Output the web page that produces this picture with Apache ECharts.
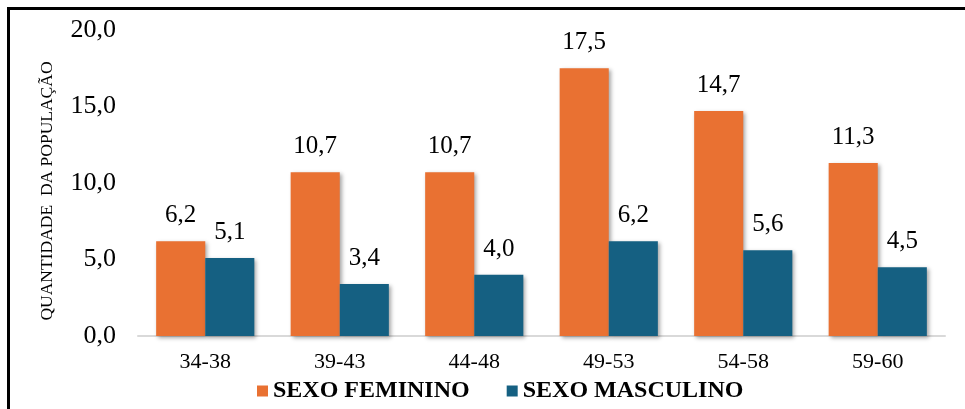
<!DOCTYPE html>
<html>
<head>
<meta charset="utf-8">
<script src="https://cdn.jsdelivr.net/npm/echarts@6/dist/echarts.min.js"></script>
<style>
  html, body { margin: 0; padding: 0; background: #fff; }
  #chart { width: 965px; height: 409px; }
</style>
</head>
<body>
<div id="chart"></div>
<script>
// Age groups and share of population by sex
const categories = ['34-38', '39-43', '44-48', '49-53', '54-58', '59-60'];
const feminino = [6.2, 10.7, 10.7, 17.5, 14.7, 11.3];
const masculino = [5.1, 3.4, 4.0, 6.2, 5.6, 4.5];
const yTicks = { min: 0, max: 20, interval: 5 };
const seriesNames = ['SEXO FEMININO', 'SEXO MASCULINO'];
const yAxisTitle = 'QUANTIDADE  DA POPULAÇÃO';

const serif = '"Liberation Serif", "Times New Roman", serif';
const fmt = v => v.toFixed(1).replace('.', ',');

const barShadow = {
  shadowColor: 'rgba(0,0,0,0.35)',
  shadowBlur: 4,
  shadowOffsetX: 2,
  shadowOffsetY: 2
};

const valueLabel = {
  show: true,
  position: 'top',
  distance: 13,
  fontFamily: serif,
  fontSize: 25,
  color: '#000',
  formatter: p => fmt(p.value)
};

const chart = echarts.init(document.getElementById('chart'), null, { renderer: 'canvas' });
chart.setOption({
  animation: false,
  backgroundColor: '#ffffff',
  textStyle: { fontFamily: serif, color: '#000' },
  graphic: [
    {
      // frame around the figure
      type: 'rect',
      shape: { x: 8.5, y: 8.5, width: 1200, height: 600 },
      style: { fill: 'none', stroke: '#000', lineWidth: 3 },
      silent: true,
      z: 100
    },
    {
      // vertical axis title
      type: 'text',
      x: 47,
      y: 191,
      rotation: Math.PI / 2,
      style: {
        text: yAxisTitle,
        font: '17.5px ' + serif,
        fill: '#000',
        align: 'center',
        verticalAlign: 'middle'
      },
      silent: true
    }
  ],
  legend: {
    left: 252,
    top: 374,
    itemWidth: 11,
    itemHeight: 11,
    itemGap: 37,
    icon: 'rect',
    textStyle: { fontFamily: serif, fontSize: 24, fontWeight: 'bold', color: '#000' },
    data: seriesNames
  },
  grid: { left: 138, right: 20, top: 30, bottom: 73 },
  xAxis: {
    type: 'category',
    data: categories,
    axisTick: { show: false },
    axisLine: { lineStyle: { color: '#D9D9D9', width: 2 } },
    axisLabel: { fontFamily: serif, fontSize: 22, color: '#000', margin: 15 }
  },
  yAxis: {
    type: 'value',
    min: yTicks.min,
    max: yTicks.max,
    interval: yTicks.interval,
    splitLine: { show: false },
    axisLine: { show: false },
    axisTick: { show: false },
    axisLabel: { fontFamily: serif, fontSize: 26, color: '#000', margin: 22, formatter: v => fmt(v) }
  },
  series: [
    {
      name: seriesNames[0],
      type: 'bar',
      data: feminino,
      barGap: '0%',
      barCategoryGap: '27%',
      itemStyle: Object.assign({ color: '#E97132' }, barShadow),
      label: valueLabel
    },
    {
      name: seriesNames[1],
      type: 'bar',
      data: masculino,
      itemStyle: Object.assign({ color: '#156082' }, barShadow),
      label: valueLabel
    }
  ]
});
</script>
</body>
</html>
